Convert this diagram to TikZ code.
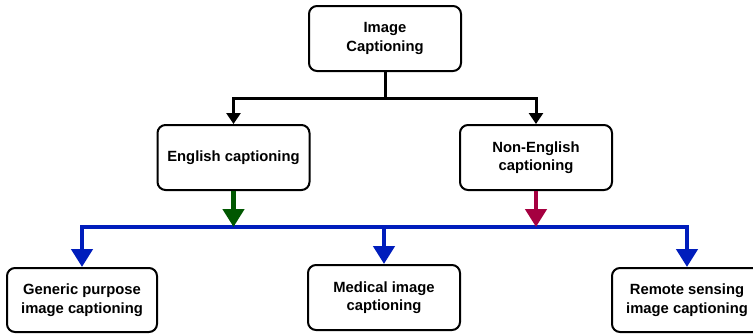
\documentclass[tikz,border=0pt]{standalone}
\usepackage{fontspec}
\setmainfont{Liberation Sans}
\usetikzlibrary{arrows.meta}
\definecolor{busblue}{HTML}{001DBC}
\definecolor{engreen}{HTML}{005700}
\definecolor{nonred}{HTML}{A50040}
\tikzset{
  catbox/.style={draw=black, line width=2pt, rounded corners=8pt, fill=white,
    minimum width=152pt, minimum height=65pt, align=center, inner sep=2pt,
    font=\fontsize{14.8}{18.5}\selectfont\bfseries},
  blackline/.style={draw=black, line width=3pt},
  blackarrow/.style={blackline, -{Triangle[width=14pt,length=11pt]}},
  colarrow/.style={line width=4.5pt, -{Triangle[width=21pt,length=18pt]}},
}
\begin{document}
\begin{tikzpicture}[x=1pt,y=-1pt]
\useasboundingbox (0,0) rectangle (753,333);

% boxes
\node[catbox] (top) at (385,38.5) {Image\\Captioning};
\node[catbox] (eng) at (233.5,157.5) {English captioning};
\node[catbox] (non) at (536,157.5) {Non-English\\captioning};
\node[catbox, minimum width=150pt, minimum height=64pt] (gen) at (82,300) {Generic purpose\\image captioning};
\node[catbox] (med) at (384,297.5) {Medical image\\captioning};
\node[catbox, minimum width=150pt, minimum height=64pt] (rem) at (687,300) {Remote sensing\\image captioning};

% junctions
\coordinate (split) at (385,98);
\coordinate (bus) at (384,227);
\coordinate (busE) at (233.5,227);
\coordinate (busN) at (536,227);

% top level split
\draw[blackline] (top.south) -- (split);
\draw[blackarrow] (split) -| (eng.north);
\draw[blackarrow] (split) -| (non.north);

% distribution bus
\draw[busblue, colarrow] (bus) -| (gen.north);
\draw[busblue, colarrow] (bus) -| (rem.north);
\draw[busblue, colarrow] (bus) -- (med.north);

% feeds into the bus
\draw[engreen, colarrow] (eng.south) -- (busE);
\draw[nonred, colarrow] (non.south) -- (busN);
\end{tikzpicture}
\end{document}
